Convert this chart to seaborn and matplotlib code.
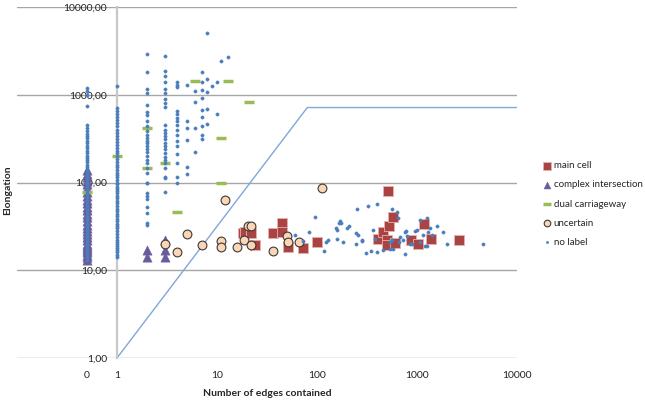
import numpy as np
import pandas as pd
import matplotlib
matplotlib.use('Agg')
import matplotlib.pyplot as plt
import seaborn as sns

sns.set_style('white')
plt.rcParams['font.family'] = ['Lato', 'DejaVu Sans']

# main cell
main_x = [18, 19, 22, 24, 36, 45, 45, 51, 73, 100, 410, 460, 500, 500, 513, 530, 575, 600, 870, 1020, 1170, 1380, 2630]
main_y = [26.5, 27, 26.5, 19.5, 26.5, 34.5, 27, 18.5, 18, 21, 23, 27, 22, 19.5, 80, 32, 40, 20.5, 22, 20, 34, 22.6, 22]

# complex intersection
cplx_x = [0] * 29 + [2, 2, 3, 3, 3]
cplx_y = [13, 14, 15, 16, 17, 18, 19, 20, 22, 24, 26, 28, 30, 33, 36, 40, 44, 48, 53, 58, 64, 70, 78, 86, 95, 105, 115, 125, 140,
          14, 17, 14, 17, 22]

# dual carriageway
dual_x = [0, 1, 2, 2, 3, 4, 6, 11, 11, 13, 21]
dual_y = [77, 200, 420, 146, 167, 46, 1450, 320, 100, 1450, 830]

# uncertain
unc_x = [3, 4, 5, 7, 11, 11, 12, 16, 18.6, 20.4, 21.9, 22, 36, 50, 51, 66, 112]
unc_y = [20, 16, 26, 19.5, 21.6, 18.5, 63, 18.5, 22, 32, 32, 19.5, 16.6, 24.5, 21, 21, 87]

# no label
col0 = [13, 14, 15, 16, 17, 18, 19, 20, 21, 22, 23, 24, 25, 26, 27, 28, 29, 30, 32, 34, 36, 38, 40, 42, 45, 48, 50, 53,
        56, 60, 64, 68, 72, 76, 80, 85, 90, 95, 100, 106, 112, 118, 125, 132, 140, 150, 160, 170, 180, 190, 200, 215,
        230, 245, 260, 280, 300, 320, 340, 360, 390, 420, 450, 750, 1000, 1100, 1200]
col1 = [14, 15, 16, 17, 18, 19, 20, 21, 22, 24, 26, 28, 30, 32, 34, 36, 38, 41, 44, 47, 50, 54, 58, 62, 66, 70, 75, 80,
        85, 90, 95, 100, 108, 115, 122, 130, 140, 150, 160, 170, 185, 200, 215, 230, 250, 270, 290, 310, 340, 370, 400,
        440, 480, 520, 560, 600, 650, 700, 1250]
col2 = [2900, 1800, 1160, 1050, 760, 640, 590, 500, 440, 390, 350, 320, 300, 280, 260, 240, 220, 200, 180, 167, 146,
        128, 100, 98, 76, 70, 65, 52, 45, 35, 33]
col3 = [2800, 1870, 1650, 1380, 1170, 1050, 900, 800, 720, 450, 400, 370, 340, 310, 280, 260, 240, 215, 195, 180, 167,
        146, 115, 112, 78]
col4 = [1400, 1300, 1230, 650, 600, 550, 500, 450, 400, 350, 300, 260, 210, 167, 115, 98]
col5 = [1280, 500, 420, 305, 150, 125]
col6 = [1100, 830, 420, 220]
col7 = [1800, 1400, 1130, 920, 670, 560, 440, 350, 310]
col8 = [5000, 1500, 1080, 680, 470]
rest_x = [9, 10, 10, 11, 13]
rest_y = [1250, 1400, 600, 2400, 2700]
cluster_x = [95, 60, 83, 72, 117, 123, 130, 166, 170, 175, 155, 160, 160, 180, 200, 210, 250, 320, 400, 560, 245, 255,
             280, 285, 245, 310, 350, 400, 460, 630, 650, 750, 770, 660, 750, 960, 1000, 1070, 1260, 1300, 1350, 1400,
             1600, 1800, 1260, 2000, 4600, 540, 560, 730, 860, 900, 1070, 540, 580, 380, 360, 680, 790, 1150, 1200]
cluster_y = [40, 25, 27, 21.6, 16.6, 21, 22, 34.5, 36, 35, 30, 29, 23, 21, 30, 32, 50, 54, 57, 50, 26.5, 25, 21.6, 22,
             20, 15.7, 16.6, 16, 17, 46, 39, 27, 28, 21, 15.4, 28, 29, 37, 39, 27, 30, 25, 32, 27, 19, 20, 20, 21, 22,
             22, 20, 20, 21, 17.5, 17.5, 23, 29, 24, 24.5, 25, 19]

nl_x = ([0] * len(col0) + [1] * len(col1) + [2] * len(col2) + [3] * len(col3) + [4] * len(col4) + [5] * len(col5)
        + [6] * len(col6) + [7] * len(col7) + [8] * len(col8) + rest_x + cluster_x)
nl_y = col0 + col1 + col2 + col3 + col4 + col5 + col6 + col7 + col8 + rest_y + cluster_y

# limit line
lim_x = [1, 80, 10000]
lim_y = [1, 715, 715]

frames = []
for lab, xs, ys in [('main cell', main_x, main_y), ('complex intersection', cplx_x, cplx_y),
                    ('dual carriageway', dual_x, dual_y), ('uncertain', unc_x, unc_y), ('no label', nl_x, nl_y)]:
    frames.append(pd.DataFrame({'edges': xs, 'elongation': ys, 'label': lab}))
df = pd.concat(frames, ignore_index=True)
# 0 edges cannot sit on a log axis, Excel puts it left of 1
df['x_plot'] = np.where(df['edges'] == 0, 0.5, df['edges'])

styles = {
    'main cell': dict(marker='s', s=60, color='#a94442', edgecolor='#e6b0ae', linewidth=0.6),
    'complex intersection': dict(marker='^', s=45, color='#6b5b9c', edgecolor='#6b5b9c', linewidth=0.3),
    'dual carriageway': dict(marker='_', s=55, color='#9bbb59', linewidth=2.5),
    'uncertain': dict(marker='o', s=40, color='#fcd5b4', edgecolor='#3a3a3a', linewidth=0.8),
    'no label': dict(marker='o', s=6, color='#4a7ebb', edgecolor='#4a7ebb', linewidth=0.2),
}

fig = plt.figure(figsize=(6.45, 4.09), dpi=100)
ax = fig.add_axes([17 / 645, 1 - 358 / 409, 500 / 645, 351 / 409])

ax.plot(lim_x, lim_y, color='#7fa7d9', lw=1, zorder=1)

for lab in styles:
    sns.scatterplot(data=df[df['label'] == lab], x='x_plot', y='elongation', ax=ax, label=lab,
                    zorder=3, clip_on=False, **styles[lab])

ax.set_xscale('log')
ax.set_yscale('log')
ax.set_xlim(0.1, 10000)
ax.set_ylim(1, 10000)
ax.set_xticks([0.5, 1, 10, 100, 1000, 10000])
ax.set_xticklabels(['0', '1', '10', '100', '1000', '10000'])
ax.set_yticks([1, 10, 100, 1000, 10000])
ax.set_yticklabels(['1,00', '10,00', '100,00', '1000,00', '10000,00'])
ax.minorticks_off()
ax.tick_params(length=0, labelsize=7.5, colors='#222222')
ax.tick_params(axis='x', pad=9)
ax.tick_params(axis='y', pad=7)
ax.grid(axis='y', color='#a6a6a6', lw=1)
ax.set_axisbelow(True)

for side in ['top', 'right', 'bottom']:
    ax.spines[side].set_visible(False)
ax.spines['left'].set_position(('data', 1))
ax.spines['left'].set_color('#c8c8c8')
ax.spines['left'].set_linewidth(1.6)

ax.set_xlabel('')
ax.set_ylabel('')
fig.text(267 / 645, 1 - 394 / 409, 'Number of edges contained', ha='center', va='center',
         fontsize=7.5, fontweight='bold')
fig.text(8 / 645, 1 - 190 / 409, 'Elongation', ha='center', va='center', rotation=90,
         fontsize=7.5, fontweight='bold')

ax.legend(loc='center left', bbox_to_anchor=(543 / 645, 1 - 204 / 409), bbox_transform=fig.transFigure,
          frameon=False, fontsize=7, handletextpad=0.2, labelspacing=1.05, handlelength=0.9,
          markerscale=0.75, borderaxespad=0, borderpad=0)

plt.savefig('out.png', dpi=100)
